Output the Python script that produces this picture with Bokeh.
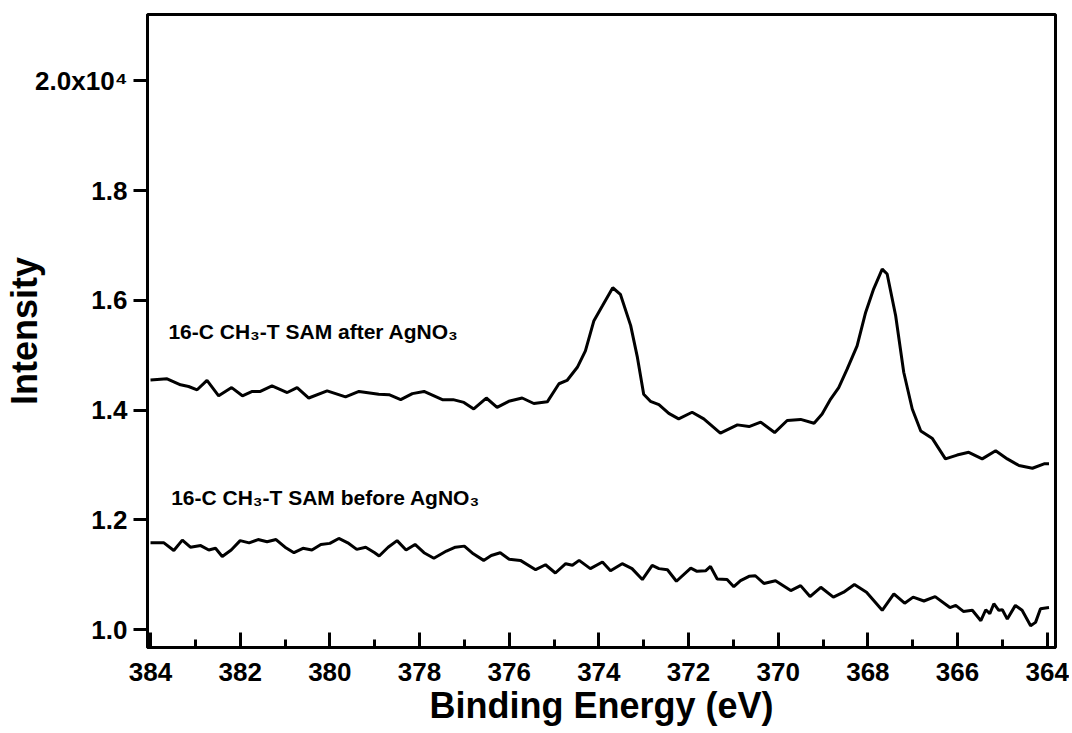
from bokeh.plotting import figure
from bokeh.models import Range1d, FixedTicker, SingleIntervalTicker, CustomJSTickFormatter, Label
from bokeh.embed import file_html
from bokeh.resources import INLINE

# ---- data (binding energy in eV, intensity in counts) ----
after_x = [384.0, 383.63, 383.33, 383.15, 382.96, 382.74, 382.48, 382.19, 381.95, 381.73,
           381.55, 381.29, 380.95, 380.73, 380.47, 380.06, 379.65, 379.35, 378.91, 378.68,
           378.42, 378.16, 377.90, 377.49, 377.25, 377.01, 376.79, 376.51, 376.27, 376.01,
           375.71, 375.45, 375.15, 374.89, 374.71, 374.48, 374.30, 374.11, 373.92, 373.69,
           373.52, 373.29, 373.14, 373.00, 372.85, 372.66, 372.44, 372.22, 371.92, 371.66,
           371.29, 370.91, 370.65, 370.39, 370.08, 369.80, 369.50, 369.20, 369.02, 368.83,
           368.65, 368.46, 368.24, 368.05, 367.87, 367.68, 367.57, 367.38, 367.20, 367.01,
           366.82, 366.56, 366.27, 366.01, 365.75, 365.45, 365.15, 364.89, 364.63, 364.33,
           364.07, 363.96]
after_y = [14550, 14570, 14460, 14430, 14370, 14540, 14260, 14410, 14260, 14340,
           14340, 14440, 14320, 14410, 14220, 14350, 14240, 14340, 14290, 14280,
           14190, 14300, 14340, 14190, 14190, 14140, 14020, 14220, 14050, 14160,
           14220, 14120, 14150, 14480, 14540, 14780, 15080, 15630, 15900, 16230,
           16110, 15540, 14960, 14290, 14160, 14100, 13940, 13840, 13960, 13840,
           13580, 13730, 13700, 13780, 13590, 13810, 13830, 13760, 13930, 14200,
           14410, 14750, 15170, 15780, 16210, 16570, 16480, 15720, 14690, 14020,
           13620, 13480, 13110, 13180, 13230, 13110, 13260, 13110, 12990, 12940,
           13020, 13020]

before_x = [384.0, 383.7, 383.48, 383.29, 383.11, 382.88, 382.7, 382.55, 382.4, 382.2,
            382.0, 381.8, 381.6, 381.4, 381.2, 381.0, 380.8, 380.6, 380.4, 380.2,
            380.0, 379.8, 379.6, 379.4, 379.2, 379.0, 378.9, 378.7, 378.5, 378.3,
            378.1, 377.9, 377.68, 377.4, 377.2, 377.0, 376.8, 376.57, 376.4, 376.2,
            376.0, 375.75, 375.41, 375.19, 374.97, 374.74, 374.59, 374.44, 374.19, 373.92,
            373.74, 373.48, 373.26, 373.03, 372.81, 372.66, 372.47, 372.27, 371.95, 371.81,
            371.62, 371.51, 371.36, 371.14, 370.99, 370.84, 370.65, 370.51, 370.32, 370.06,
            369.72, 369.50, 369.29, 369.05, 368.77, 368.54, 368.30, 368.03, 367.68, 367.42,
            367.18, 366.99, 366.75, 366.50, 366.17, 366.04, 365.87, 365.67, 365.48, 365.37,
            365.28, 365.19, 365.08, 365.00, 364.89, 364.71, 364.56, 364.37, 364.26, 364.15,
            363.96]
before_y = [11580, 11580, 11440, 11630, 11500, 11530, 11450, 11480, 11330, 11450,
            11620, 11580, 11640, 11600, 11640, 11500, 11400, 11480, 11450, 11550,
            11570, 11660, 11580, 11460, 11500, 11400, 11340, 11500, 11620, 11450,
            11550, 11400, 11300, 11430, 11500, 11520, 11380, 11260, 11350, 11400,
            11280, 11260, 11090, 11180, 11030, 11200, 11170, 11260, 11110, 11230,
            11070, 11200, 11110, 10910, 11170, 11110, 11090, 10880, 11120, 11060,
            11070, 11150, 10920, 10910, 10780, 10890, 10970, 10980, 10840, 10890,
            10710, 10800, 10600, 10770, 10590, 10680, 10820, 10680, 10350, 10650,
            10480, 10590, 10520, 10600, 10400, 10440, 10330, 10350, 10160, 10360,
            10290, 10470, 10350, 10360, 10190, 10440, 10350, 10070, 10130, 10380,
            10400]

y_ticks = [10000, 12000, 14000, 16000, 18000, 20000]
label_after = "16-C CH\u2083-T SAM after AgNO\u2083"
label_before = "16-C CH\u2083-T SAM before AgNO\u2083"
x_title = "Binding Energy (eV)"
y_title = "Intensity"

FONT = "Liberation Sans"
X0, X1 = 384.067, 363.815
Y0, Y1 = 9672, 21211

p = figure(frame_width=908, frame_height=633, output_backend="svg", toolbar_location=None,
           x_range=Range1d(X0, X1), y_range=Range1d(Y0, Y1),
           min_border_left=147, min_border_right=14, min_border_top=14, min_border_bottom=86)

p.line(after_x, after_y, line_color="black", line_width=3)
p.line(before_x, before_y, line_color="black", line_width=3)

p.add_layout(Label(x=383.6, y=15430, text=label_after, text_font=FONT, text_font_style="bold",
                   text_font_size="21px", text_color="black", text_baseline="alphabetic"))
p.add_layout(Label(x=383.54, y=12410, text=label_before, text_font=FONT, text_font_style="bold",
                   text_font_size="21px", text_color="black", text_baseline="alphabetic"))

p.xgrid.visible = False
p.ygrid.visible = False
p.outline_line_color = "black"
p.outline_line_width = 3
p.background_fill_color = "white"
p.border_fill_color = "white"

# x axis
xa = p.xaxis[0]
xa.ticker = SingleIntervalTicker(interval=2, num_minor_ticks=2)
xa.axis_label = x_title
xa.axis_label_text_font = FONT
xa.axis_label_text_font_style = "bold"
xa.axis_label_text_font_size = "36px"
xa.axis_label_text_color = "black"
xa.axis_label_standoff = 1
xa.major_label_text_font = FONT
xa.major_label_text_font_style = "bold"
xa.major_label_text_font_size = "26px"
xa.major_label_text_color = "black"
xa.major_label_standoff = 15
xa.axis_line_width = 3
xa.axis_line_color = "black"
xa.major_tick_in = 15
xa.major_tick_out = 0
xa.minor_tick_in = 8
xa.minor_tick_out = 0
xa.major_tick_line_width = 3
xa.minor_tick_line_width = 3
xa.major_tick_line_color = "black"
xa.minor_tick_line_color = "black"

# y axis
ya = p.yaxis[0]
ya.ticker = FixedTicker(ticks=y_ticks, minor_ticks=[])
ya.formatter = CustomJSTickFormatter(code="""
    if (tick >= 19999) { return '2.0x10\u2074'; }
    return (tick / 10000).toFixed(1);
""")
ya.axis_label = y_title
ya.axis_label_text_font = FONT
ya.axis_label_text_font_style = "bold"
ya.axis_label_text_font_size = "36px"
ya.axis_label_text_color = "black"
ya.axis_label_standoff = -13
ya.major_label_text_font = FONT
ya.major_label_text_font_style = "bold"
ya.major_label_text_font_size = "26px"
ya.major_label_text_color = "black"
ya.major_label_standoff = 6
ya.axis_line_width = 3
ya.axis_line_color = "black"
ya.major_tick_in = 0
ya.major_tick_out = 14
ya.major_tick_line_width = 3
ya.major_tick_line_color = "black"
ya.minor_tick_line_color = None

open("out.html", "w").write(file_html(p, INLINE))
